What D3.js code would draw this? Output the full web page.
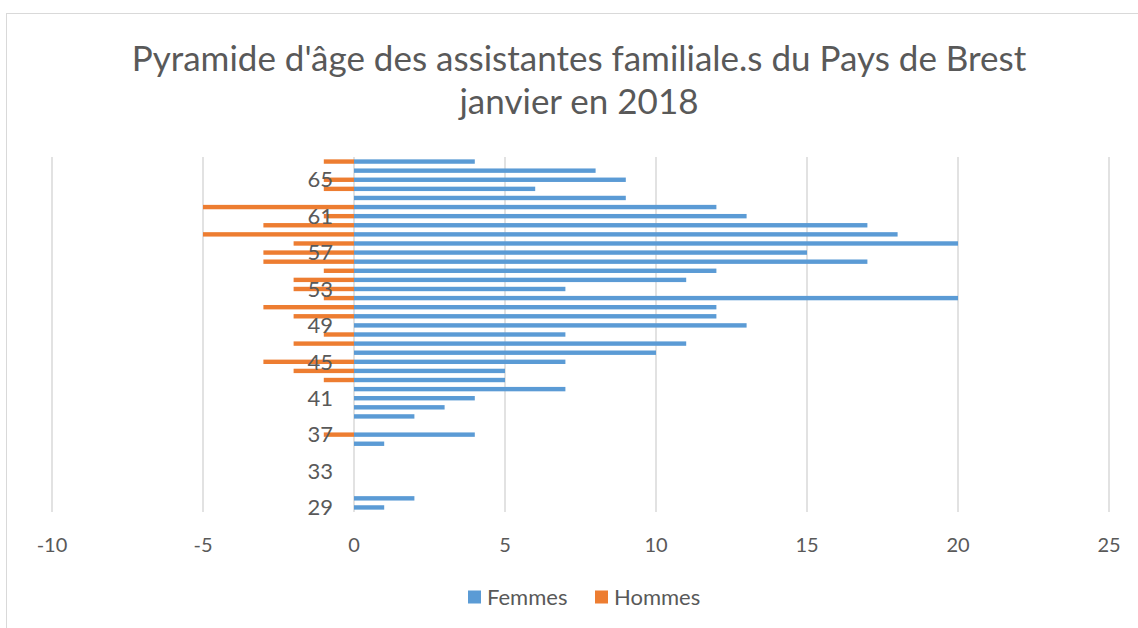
<!DOCTYPE html>
<html>
<head>
<meta charset="utf-8">
<script src="https://cdn.jsdelivr.net/npm/d3@7"></script>
<style>
  body { margin: 0; background: #fff; }
  text { font-family: Lato, "Open Sans", sans-serif; fill: #595959; }
</style>
</head>
<body>
<div id="app"></div>
<script>
// ages, bottom to top
const ages = [29, 30, 31, 32, 33, 34, 35, 36, 37, 38, 39, 40, 41, 42, 43, 44, 45, 46, 47, 48,
              49, 50, 51, 52, 53, 54, 55, 56, 57, 58, 59, 60, 61, 62, 63, 64, 65, 66, 67];
const femmes = [1, 2, 0, 0, 0, 0, 0, 1, 4, 0, 2, 3, 4, 7, 5, 5, 7, 10, 11, 7,
                13, 12, 12, 20, 7, 11, 12, 17, 15, 20, 18, 17, 13, 12, 9, 6, 9, 8, 4];
const hommes = [0, 0, 0, 0, 0, 0, 0, 0, -1, 0, 0, 0, 0, 0, -1, -2, -3, 0, -2, -1,
                0, -2, -3, -1, -2, -2, -1, -3, -3, -2, -5, -3, -1, -5, 0, -1, -1, 0, -1];
const shownAges = [29, 33, 37, 41, 45, 49, 53, 57, 61, 65];
const xTicks = [-10, -5, 0, 5, 10, 15, 20, 25];

const width = 1138;
const height = 628;

const svg = d3.select('#app')
              .append('svg')
              .attr('width', width)
              .attr('height', height)

// chart frame
svg.append('rect')
   .attr('x', 6.5)
   .attr('y', 13.5)
   .attr('width', 1140)
   .attr('height', 640)
   .attr('fill', 'none')
   .attr('stroke', '#d9d9d9')

const title = svg.append('text')
                 .attr('text-anchor', 'middle')
                 .style('font-size', '35px')
title.append('tspan').attr('x', 579).attr('y', 71).text("Pyramide d'âge des assistantes familiale.s du Pays de Brest")
title.append('tspan').attr('x', 579).attr('y', 114).text('janvier en 2018')

const x = d3.scaleLinear()
            .domain([-10, 25])
            .range([52, 1109])

const y = d3.scaleBand()
            .domain(ages)
            .range([512, 157])
            .paddingInner(0.5)
            .paddingOuter(0.25)

// gridlines
svg.append('g')
   .selectAll('line')
   .data(xTicks)
   .enter()
   .append('line')
   .attr('x1', d => x(d))
   .attr('x2', d => x(d))
   .attr('y1', 157)
   .attr('y2', 512)
   .attr('stroke', '#d9d9d9')
   .attr('stroke-width', 1.5)

const series = [
  { name: 'Femmes', values: femmes, color: '#5b9bd5' },
  { name: 'Hommes', values: hommes, color: '#ed7d31' }
];

series.forEach(s => {
  svg.append('g')
     .selectAll('rect')
     .data(s.values.map((v, i) => ({ age: ages[i], value: v })).filter(d => d.value !== 0))
     .enter()
     .append('rect')
     .attr('x', d => Math.min(x(0), x(d.value)))
     .attr('width', d => Math.abs(x(d.value) - x(0)))
     .attr('y', d => y(d.age) + y.bandwidth() / 2 - 2.2)
     .attr('height', 4.4)
     .attr('fill', s.color)
});

// category labels
svg.append('g')
   .selectAll('text')
   .data(shownAges)
   .enter()
   .append('text')
   .attr('x', 333)
   .attr('y', d => y(d) + y.bandwidth() / 2)
   .attr('dy', '0.35em')
   .attr('text-anchor', 'end')
   .style('font-size', '22px')
   .text(d => d)

// value axis labels
svg.append('g')
   .selectAll('text')
   .data(xTicks)
   .enter()
   .append('text')
   .attr('x', d => x(d))
   .attr('y', 545)
   .attr('dy', '0.35em')
   .attr('text-anchor', 'middle')
   .style('font-size', '20px')
   .text(d => d)

// legend
const legend = svg.append('g')
                  .selectAll('g')
                  .data(series)
                  .enter()
                  .append('g')
                  .attr('transform', (d, i) => `translate(${468 + i * 127}, 597)`)

legend.append('rect')
      .attr('x', 0)
      .attr('y', -6.5)
      .attr('width', 13)
      .attr('height', 13)
      .attr('fill', d => d.color)

legend.append('text')
      .attr('x', 19)
      .attr('dy', '0.35em')
      .style('font-size', '22px')
      .text(d => d.name)
</script>
</body>
</html>
